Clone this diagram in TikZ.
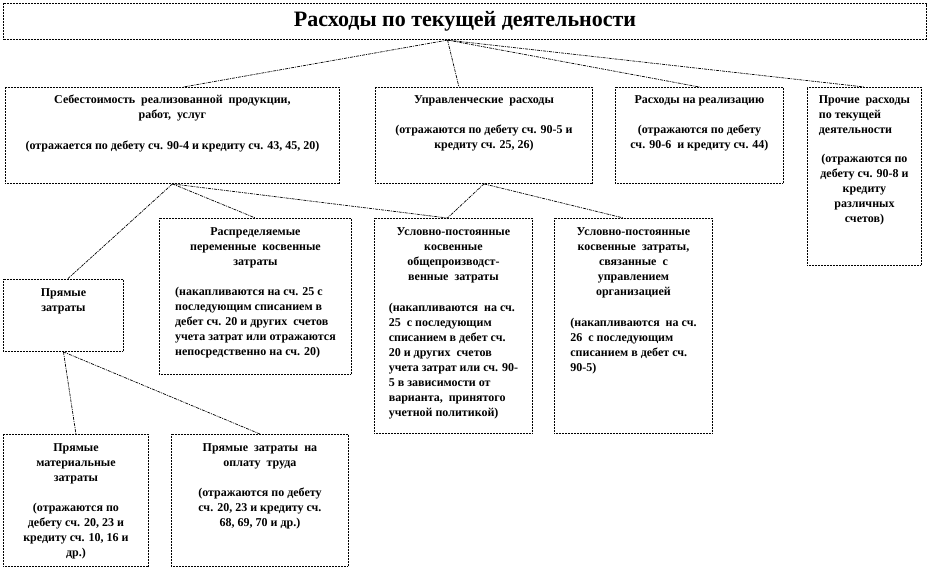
\documentclass[tikz,border=0pt]{standalone}
\usepackage{fontspec}
\setmainfont{Liberation Serif}
\usetikzlibrary{positioning, calc}
\tikzset{
  exp box/.style={
    rectangle, draw=black, line width=0.9pt,
    dash pattern=on 1pt off 0.5pt, fill=white,
    anchor=north west, inner sep=0pt
  },
  exp title/.style={
    exp box, line width=1.1pt,
    font=\fontsize{22}{24}\selectfont\bfseries
  },
  exp head/.style={
    align=center, inner sep=0pt,
    font=\fontsize{12}{15}\selectfont\bfseries
  },
  exp head left/.style={
    exp head, align=left
  },
  exp link/.style={
    line width=0.7pt, draw=black,
    dash pattern=on 3pt off 1pt on 1pt off 1pt
  }
}

\begin{document}
\begin{tikzpicture}[x=1pt, y=-1pt]
  \useasboundingbox[fill=white] (0,0) rectangle (930,579);

  % boxes
  \node (title) [exp title, minimum width=923pt, minimum height=36pt] at (3,3) {Расходы по текущей деятельности};
  \node (cost) [exp box, minimum width=334pt, minimum height=96pt] at (5,87) {};
  \node (mgmt) [exp box, minimum width=217pt, minimum height=96pt] at (375,87) {};
  \node (sales) [exp box, minimum width=168pt, minimum height=96pt] at (615,87) {};
  \node (other) [exp box, minimum width=114pt, minimum height=178pt] at (807,87) {};
  \node (dist) [exp box, minimum width=192pt, minimum height=156pt] at (159,218) {};
  \node (condfix) [exp box, minimum width=158pt, minimum height=215pt] at (374,218) {};
  \node (condmg) [exp box, minimum width=158pt, minimum height=215pt] at (554,218) {};
  \node (direct) [exp box, minimum width=120pt, minimum height=72pt] at (3,279) {};
  \node (mat) [exp box, minimum width=145pt, minimum height=132pt] at (3,434) {};
  \node (labour) [exp box, minimum width=177pt, minimum height=132pt] at (171,434) {};

  % texts
  \node (cost-h) [exp head, below=8pt of cost.north] {Себестоимость \ реализованной \ продукции,\\работ, \ услуг};
  \node (cost-b) [exp head, below=19pt of cost-h] {(отражается по дебету сч. 90-4 и кредиту сч. 43, 45, 20)};
  \node (mgmt-h) [exp head, below=8pt of mgmt.north] {Управленческие \ расходы};
  \node (mgmt-b) [exp head, below=19pt of mgmt-h] {(отражаются по дебету сч. 90-5 и\\кредиту сч. 25, 26)};
  \node (sales-h) [exp head, below=8pt of sales.north] {Расходы на реализацию};
  \node (sales-b) [exp head, below=19pt of sales-h] {(отражаются по дебету\\сч. 90-6 \ и кредиту сч. 44)};
  \node (other-h) [exp head left, below=8pt of other.north] {Прочие \ расходы\\по текущей\\деятельности};
  \node (other-b) [exp head, below=19pt of other-h] {(отражаются по\\дебету сч. 90-8 и\\кредиту\\различных\\счетов)};
  \node (dist-h) [exp head, below=9pt of dist.north] {Распределяемые\\переменные \ косвенные\\затраты};
  \node (dist-b) [exp head left, below=19pt of dist-h] {(накапливаются на сч. 25 с\\последующим списанием в\\дебет сч. 20 и других \ счетов\\учета затрат или отражаются\\непосредственно на сч. 20)};
  \node (condfix-h) [exp head, below=9pt of condfix.north] {Условно-постоянные\\косвенные\\общепроизводст-\\венные \ затраты};
  \node (condfix-b) [exp head left, below=20pt of condfix-h] {(накапливаются \ на сч.\\25 \ с последующим\\списанием в дебет сч.\\20 и других \ счетов\\учета затрат или сч. 90-\\5 в зависимости от\\варианта, \ принятого\\учетной политикой)};
  \node (condmg-h) [exp head, below=9pt of condmg.north] {Условно-постоянные\\косвенные \ затраты,\\связанные \ с\\управлением\\организацией};
  \node (condmg-b) [exp head left, below=20pt of condmg-h] {(накапливаются \ на сч.\\26 \ с последующим\\списанием в дебет сч.\\90-5)};
  \node (direct-h) [exp head, below=9pt of direct.north] {Прямые\\затраты};
  \node (mat-h) [exp head, below=9pt of mat.north] {Прямые\\материальные\\затраты};
  \node (mat-b) [exp head, below=19pt of mat-h] {(отражаются по\\дебету сч. 20, 23 и\\кредиту сч. 10, 16 и\\др.)};
  \node (labour-h) [exp head, below=9pt of labour.north] {Прямые \ затраты \ на\\оплату \ труда};
  \node (labour-b) [exp head, below=19pt of labour-h] {(отражаются по дебету\\сч. 20, 23 и кредиту сч.\\68, 69, 70 и др.)};

  % connectors
  \coordinate (hub) at ($(title.south)+(-17.5,0)$);
  \draw [exp link] (hub) -- ($(cost.north)+(11,0)$);
  \draw [exp link] (hub) -- ($(mgmt.north)+(-25,0)$);
  \draw [exp link] (hub) -- (sales.north);
  \draw [exp link] (hub) -- (other.north);
  \draw [exp link] (cost.south) -- ($(direct.north)+(4,0)$);
  \draw [exp link] (cost.south) -- (dist.north);
  \draw [exp link] (cost.south) -- ($(condfix.north)+(-6,0)$);
  \draw [exp link] (mgmt.south) -- ($(condfix.north)+(-6,0)$);
  \draw [exp link] (mgmt.south) -- ($(condmg.north)+(-10,0)$);
  \draw [exp link] (direct.south) -- (mat.north);
  \draw [exp link] (direct.south) -- (labour.north);
\end{tikzpicture}
\end{document}
